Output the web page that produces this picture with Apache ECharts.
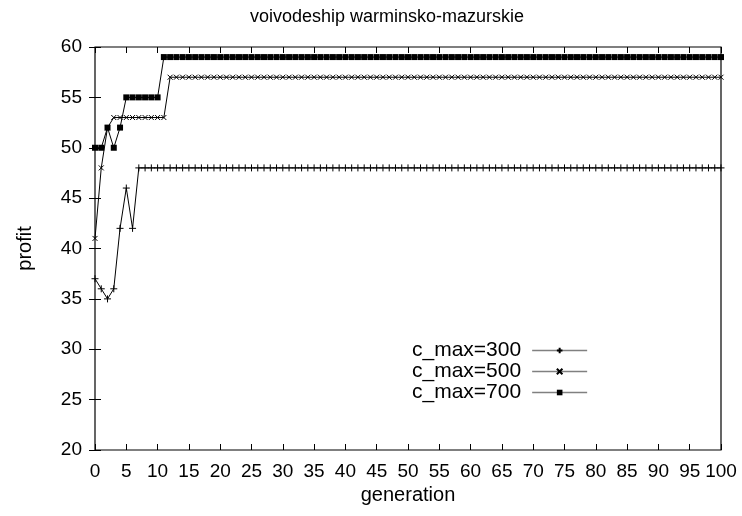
<!DOCTYPE html>
<html>
<head>
<meta charset="utf-8">
<script src="https://cdn.jsdelivr.net/npm/echarts@6/dist/echarts.min.js"></script>
<style>html,body{margin:0;padding:0;background:#fff}#c{width:742px;height:516px}</style>
</head>
<body>
<div id="c"></div>
<script>
const titleText = 'voivodeship warminsko-mazurskie';
const seriesNames = ['c_max=300', 'c_max=500', 'c_max=700'];
const xTicks = { min: 0, max: 100, interval: 5 };
const yTicks = { min: 20, max: 60, interval: 5 };

const cmax300 = [
  37,36,35,36,42,46,42,48,48,48,
  48,48,48,48,48,48,48,48,48,48,
  48,48,48,48,48,48,48,48,48,48,
  48,48,48,48,48,48,48,48,48,48,
  48,48,48,48,48,48,48,48,48,48,
  48,48,48,48,48,48,48,48,48,48,
  48,48,48,48,48,48,48,48,48,48,
  48,48,48,48,48,48,48,48,48,48,
  48,48,48,48,48,48,48,48,48,48,
  48,48,48,48,48,48,48,48,48,48,
  48
];
const cmax500 = [
  41,48,52,53,53,53,53,53,53,53,
  53,53,57,57,57,57,57,57,57,57,
  57,57,57,57,57,57,57,57,57,57,
  57,57,57,57,57,57,57,57,57,57,
  57,57,57,57,57,57,57,57,57,57,
  57,57,57,57,57,57,57,57,57,57,
  57,57,57,57,57,57,57,57,57,57,
  57,57,57,57,57,57,57,57,57,57,
  57,57,57,57,57,57,57,57,57,57,
  57,57,57,57,57,57,57,57,57,57,
  57
];
const cmax700 = [
  50,50,52,50,52,55,55,55,55,55,
  55,59,59,59,59,59,59,59,59,59,
  59,59,59,59,59,59,59,59,59,59,
  59,59,59,59,59,59,59,59,59,59,
  59,59,59,59,59,59,59,59,59,59,
  59,59,59,59,59,59,59,59,59,59,
  59,59,59,59,59,59,59,59,59,59,
  59,59,59,59,59,59,59,59,59,59,
  59,59,59,59,59,59,59,59,59,59,
  59,59,59,59,59,59,59,59,59,59,
  59
];

const FONT = 'Liberation Sans, Arial, Helvetica, sans-serif';
const toPairs = arr => arr.map((v, i) => [i, v]);

const symbols = [
  { symbol: 'path://M0,4L8,4M4,0L4,8', size: 7 },
  { symbol: 'path://M0,0L8,8M8,0L0,8', size: 5 },
  { symbol: 'rect', size: 6 }
];
const datas = [cmax300, cmax500, cmax700];

const chart = echarts.init(document.getElementById('c'));
const axisCommon = {
  type: 'value',
  axisLine: { show: false },
  axisTick: { show: true, inside: true, length: 6, lineStyle: { color: '#000', width: 1 } },
  splitLine: { show: false },
  axisLabel: { color: '#000', fontFamily: FONT, fontSize: 19 }
};
chart.setOption({
  animation: false,
  backgroundColor: '#fff',
  title: {
    text: titleText,
    left: 382, top: 3, textAlign: 'center',
    textStyle: { fontFamily: FONT, fontSize: 18, fontWeight: 'normal', color: '#000' }
  },
  grid: { left: 95, right: 21, top: 47, bottom: 66, show: true, borderColor: '#000', borderWidth: 1.2, containLabel: false },
  legend: {
    orient: 'vertical', left: 407, top: 335, align: 'right',
    itemWidth: 55, itemHeight: 7, itemGap: 0,
    lineStyle: { color: '#808080', width: 1.5 },
    textStyle: { fontFamily: FONT, fontSize: 21, color: '#000', lineHeight: 21, padding: [0, 6, 0, 0] },
    data: seriesNames
  },
  xAxis: [
    Object.assign({}, axisCommon, {
      min: xTicks.min, max: xTicks.max, interval: xTicks.interval,
      name: 'generation', nameLocation: 'middle', nameGap: 33,
      nameTextStyle: { fontFamily: FONT, fontSize: 20, color: '#000' },
      axisLabel: Object.assign({}, axisCommon.axisLabel, { margin: 12 })
    }),
    Object.assign({}, axisCommon, {
      position: 'top', min: xTicks.min, max: xTicks.max, interval: xTicks.interval,
      axisLabel: { show: false }
    })
  ],
  yAxis: [
    Object.assign({}, axisCommon, {
      min: yTicks.min, max: yTicks.max, interval: yTicks.interval,
      name: 'profit', nameLocation: 'middle', nameGap: 60, nameRotate: 90,
      nameTextStyle: { fontFamily: FONT, fontSize: 20, color: '#000' },
      axisLabel: Object.assign({}, axisCommon.axisLabel, { margin: 13 })
    }),
    Object.assign({}, axisCommon, {
      position: 'right', min: yTicks.min, max: yTicks.max, interval: yTicks.interval,
      axisLabel: { show: false }
    })
  ],
  series: seriesNames.map((name, k) => ({
    name: name,
    type: 'line',
    xAxisIndex: 0, yAxisIndex: 0,
    data: toPairs(datas[k]),
    symbol: symbols[k].symbol,
    symbolSize: symbols[k].size,
    showSymbol: true,
    showAllSymbol: true,
    silent: true,
    lineStyle: { color: '#000', width: 1 },
    itemStyle: { color: '#000', borderColor: '#000', borderWidth: k === 2 ? 0 : 1 },
    emphasis: { disabled: true }
  }))
});
</script>
</body>
</html>
